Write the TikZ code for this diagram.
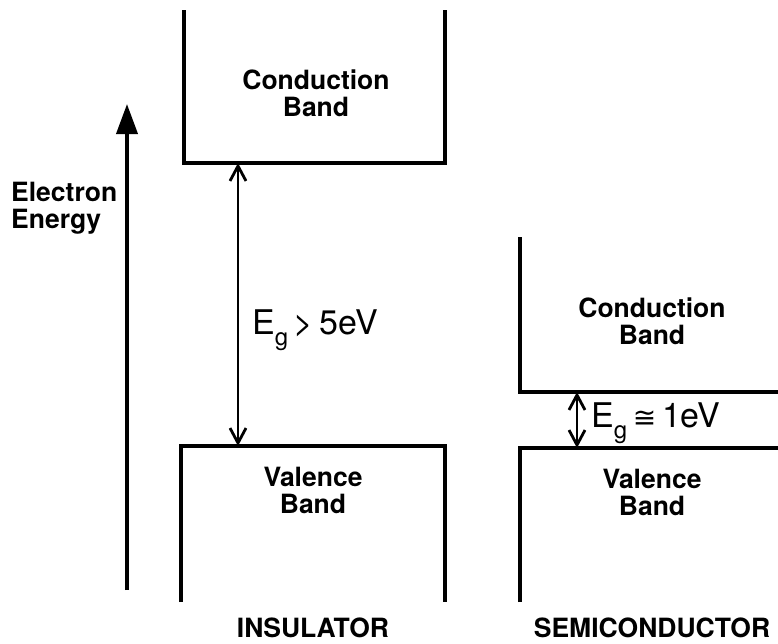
\documentclass[tikz,border=0pt]{standalone}
\usepackage{fontspec}
\setmainfont{TeX Gyre Heros}
\newfontfamily\symfont{DejaVu Sans}
\usetikzlibrary{arrows.meta}
\newcommand{\gapsub}{\raisebox{-11pt}{\fontsize{24}{24}\selectfont g}}
\begin{document}
\begin{tikzpicture}[x=1pt,y=-1pt,
	edge/.style={line width=3.8pt, line cap=butt, line join=miter},
	gap/.style={line width=2.8pt, {Straight Barb[length=15pt,width=16pt,line width=2.8pt]}-{Straight Barb[length=15pt,width=16pt,line width=2.8pt]}},
	axis/.style={line width=3.8pt, -{Triangle[length=30pt,width=21pt]}},
	lbl/.style={inner sep=0pt, align=center, font=\fontsize{26.5}{27}\selectfont\bfseries},
	eg/.style={inner sep=0pt, anchor=west, font=\fontsize{34}{34}\selectfont}]
	\useasboundingbox (0,0) rectangle (778,643);
	% energy axis
	\coordinate (E0) at (127,590);
	\coordinate (E1) at (127,104);
	\draw[axis] (E0) -- (E1);
	\node (elen) at (11,208)	[lbl, anchor=west, align=left]	{Electron\\Energy};
	% insulator
	\draw[edge] (184,10) -- (184,163) -- (445,163) -- (445,10);
	\draw[edge] (181,602) -- (181,446) -- (445,446) -- (445,602);
	\node (cbI) at (316,93)	[lbl]	{Conduction\\Band};
	\node (vbI) at (313,490)	[lbl]	{Valence\\Band};
	\coordinate (gI1) at (238,163);
	\coordinate (gI2) at (238,446);
	\draw[gap] (gI1) -- (gI2);
	\node (egI) at (252,330)	[eg]	{E\gapsub\,>\,5eV};
	\node (ins) at (313,628)	[lbl]	{INSULATOR};
	% semiconductor
	\draw[edge] (520,237) -- (520,392) -- (780,392);
	\draw[edge] (520,602) -- (520,448) -- (780,448);
	\node (cbS) at (652,321)	[lbl]	{Conduction\\Band};
	\node (vbS) at (652,492)	[lbl]	{Valence\\Band};
	\coordinate (gS1) at (577,392);
	\coordinate (gS2) at (577,448);
	\draw[gap] (gS1) -- (gS2);
	\node (egS) at (591,423)	[eg]	{E\gapsub\,{\symfont\fontsize{28}{28}\selectfont ≅}\,1eV};
	\node (semi) at (652,628)	[lbl]	{SEMICONDUCTOR};
\end{tikzpicture}
\end{document}
